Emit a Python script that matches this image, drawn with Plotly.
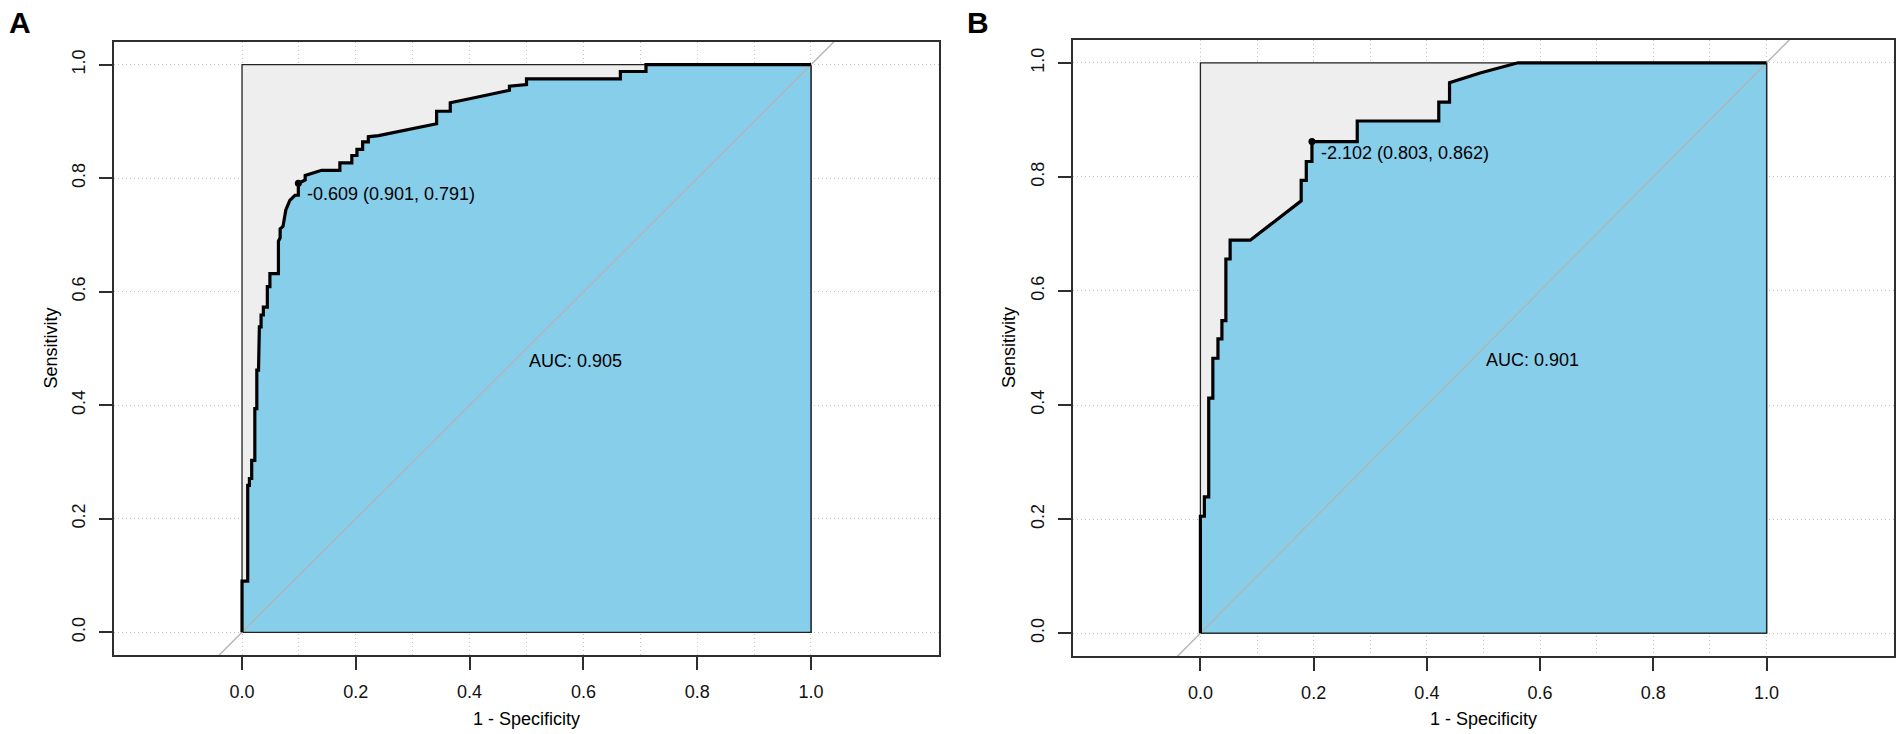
import plotly.graph_objects as go

# --- data (x = 1 - specificity, y = sensitivity) ---

A_FPR = [0.0, 0.0, 0.010, 0.010, 0.013, 0.013, 0.017, 0.017, 0.0225, 0.0225,
         0.026, 0.026, 0.029, 0.0305, 0.0335, 0.0335, 0.0375, 0.0375, 0.0445, 0.0445,
         0.049, 0.049, 0.064, 0.064, 0.067, 0.067, 0.072, 0.077, 0.084, 0.093,
         0.099, 0.099, 0.111, 0.111, 0.140, 0.172, 0.172, 0.193, 0.193, 0.202,
         0.202, 0.212, 0.212, 0.222, 0.222, 0.240, 0.342, 0.342, 0.366, 0.366,
         0.400, 0.453, 0.470, 0.470, 0.500, 0.500, 0.665, 0.665, 0.710, 0.710, 1.0]
A_TPR = [0.0, 0.090, 0.090, 0.259, 0.259, 0.271, 0.271, 0.303, 0.303, 0.394,
         0.394, 0.462, 0.462, 0.538, 0.538, 0.559, 0.559, 0.573, 0.573, 0.609,
         0.609, 0.632, 0.632, 0.689, 0.695, 0.711, 0.715, 0.744, 0.761, 0.770,
         0.770, 0.791, 0.797, 0.805, 0.814, 0.814, 0.827, 0.827, 0.840, 0.840,
         0.851, 0.851, 0.864, 0.864, 0.873, 0.875, 0.896, 0.918, 0.918, 0.933,
         0.940, 0.951, 0.955, 0.962, 0.965, 0.975, 0.975, 0.988, 0.988, 1.0, 1.0]

B_FPR = [0.0, 0.0, 0.007, 0.007, 0.0147, 0.0147, 0.022, 0.022, 0.031, 0.031,
         0.038, 0.038, 0.045, 0.045, 0.0525, 0.0525, 0.088, 0.178, 0.178, 0.187,
         0.187, 0.197, 0.197, 0.277, 0.277, 0.421, 0.421, 0.440, 0.440, 0.494,
         0.561, 1.0]
B_TPR = [0.0, 0.205, 0.205, 0.239, 0.239, 0.412, 0.412, 0.482, 0.482, 0.516,
         0.516, 0.548, 0.548, 0.656, 0.656, 0.689, 0.689, 0.758, 0.794, 0.794,
         0.827, 0.827, 0.862, 0.862, 0.898, 0.898, 0.931, 0.931, 0.965, 0.982,
         1.0, 1.0]

# best threshold: (threshold, specificity, sensitivity)
A_BEST = (-0.609, 0.901, 0.791)
B_BEST = (-2.102, 0.803, 0.862)
A_AUC = 0.905
B_AUC = 0.901

PANEL_LABELS = ["A", "B"]

# perfect classifier square and chance line
MAX_FPR = [0.0, 0.0, 1.0, 1.0, 0.0]
MAX_TPR = [0.0, 1.0, 1.0, 0.0, 0.0]
CHANCE = [-0.5, 1.5]

MAJOR_TICKS = [0.0, 0.2, 0.4, 0.6, 0.8, 1.0]
TICK_TEXT = ["0.0", "0.2", "0.4", "0.6", "0.8", "1.0"]
X_MINOR_GRID = [0.1, 0.3, 0.5, 0.7, 0.9]

# --- layout constants (pixels of the 1901 x 734 page) ---
W, H = 1901, 734
FONT = "Liberation Sans, Arial, sans-serif"
FS = 18
GRID = "#c4c4c4"
GRID_DASH = "1px,3px"
FRAME = "#2e2e2e"
SKY = "#87CEEB"

X_RANGE = [-0.225, 1.225]
Y_RANGE = [-0.04, 1.04]


def axis_common():
    return dict(
        tickmode="array", tickvals=MAJOR_TICKS, ticktext=TICK_TEXT,
        ticks="outside", ticklen=13, tickwidth=1.6, tickcolor=FRAME,
        showline=True, mirror=True, linecolor=FRAME, linewidth=1.7,
        showgrid=True, gridcolor=GRID, griddash=GRID_DASH, gridwidth=1,
        zeroline=False, fixedrange=True, automargin=False,
        tickfont=dict(family=FONT, size=FS, color="#111111"),
        ticklabelstandoff=7,
    )


fig = go.Figure()

panels = [
    dict(fpr=A_FPR, tpr=A_TPR, best=A_BEST, auc=A_AUC, xs=(114, 939), ys=(655, 42)),
    dict(fpr=B_FPR, tpr=B_TPR, best=B_BEST, auc=B_AUC, xs=(1073, 1894), ys=(656, 40)),
]

for i, p in enumerate(panels):
    n = "" if i == 0 else str(i + 1)
    xa, ya = "x" + n, "y" + n

    # grey square (max AUC)
    fig.add_trace(go.Scatter(
        x=MAX_FPR, y=MAX_TPR, xaxis=xa, yaxis=ya, mode="lines",
        fill="toself", fillcolor="#EEEEEE", line=dict(color="#222222", width=1.3),
        hoverinfo="skip", showlegend=False))

    # area under the curve
    fig.add_trace(go.Scatter(
        x=p["fpr"] + [1.0, 0.0], y=p["tpr"] + [0.0, 0.0], xaxis=xa, yaxis=ya,
        mode="lines", fill="toself", fillcolor=SKY,
        line=dict(color="#222222", width=1.3),
        hoverinfo="skip", showlegend=False))

    # chance diagonal
    fig.add_trace(go.Scatter(
        x=CHANCE, y=CHANCE, xaxis=xa, yaxis=ya, mode="lines",
        line=dict(color="#B4B4B4", width=1.4), hoverinfo="skip", showlegend=False))

    # ROC curve
    fig.add_trace(go.Scatter(
        x=p["fpr"], y=p["tpr"], xaxis=xa, yaxis=ya, mode="lines",
        line=dict(color="black", width=3.2), showlegend=False))

    thr, spec, sens = p["best"]
    fig.add_trace(go.Scatter(
        x=[1 - spec], y=[sens], xaxis=xa, yaxis=ya, mode="markers",
        marker=dict(color="black", size=7), showlegend=False))

    fig.add_annotation(
        x=1 - spec, y=sens, xref=xa, yref=ya, xanchor="left", yanchor="top",
        xshift=7, yshift=1, showarrow=False,
        text=f"{thr:.3f} ({spec:.3f}, {sens:.3f})",
        font=dict(family=FONT, size=FS, color="black"))

    fig.add_annotation(
        x=0.5, y=0.5, xref=xa, yref=ya, xanchor="left", yanchor="top",
        showarrow=False, text=f"AUC: {p['auc']:.3f}",
        font=dict(family=FONT, size=FS, color="black"))

    x_dom = [p["xs"][0] / W, p["xs"][1] / W]
    y_dom = [(H - p["ys"][0]) / H, (H - p["ys"][1]) / H]

    xcfg = axis_common()
    xcfg.update(domain=x_dom, range=X_RANGE, anchor=ya,
                minor=dict(tickmode="array", tickvals=X_MINOR_GRID, showgrid=True,
                           gridcolor=GRID, griddash=GRID_DASH, gridwidth=1, ticks=""))
    ycfg = axis_common()
    ycfg.update(domain=y_dom, range=Y_RANGE, anchor=xa, tickangle=-90)

    fig.update_layout({"xaxis" + n: xcfg, "yaxis" + n: ycfg})

    # axis titles
    fig.add_annotation(
        x=0.5, y=(H - 719) / H, xref=xa, yref="paper", showarrow=False,
        text="1 - Specificity", xanchor="center", yanchor="middle",
        font=dict(family=FONT, size=FS, color="black"))
    fig.add_annotation(
        x=(p["xs"][0] - 64) / W, y=0.5, xref="paper", yref=ya, showarrow=False,
        text="Sensitivity", textangle=-90, xanchor="center", yanchor="middle",
        font=dict(family=FONT, size=FS, color="black"))

    # panel letter
    fig.add_annotation(
        x=(20 + i * 958) / W, y=(H - 23) / H, xref="paper", yref="paper",
        showarrow=False, text=f"<b>{PANEL_LABELS[i]}</b>",
        xanchor="center", yanchor="middle",
        font=dict(family=FONT, size=30, color="black"))

fig.update_layout(
    width=W, height=H,
    margin=dict(l=0, r=0, t=0, b=0),
    paper_bgcolor="white", plot_bgcolor="white",
    showlegend=False,
)

# drop the default page margin so the figure sits at the window's corner
fig.write_html("out.html", config={"displayModeBar": False},
               post_script="document.body.style.margin='0';")
